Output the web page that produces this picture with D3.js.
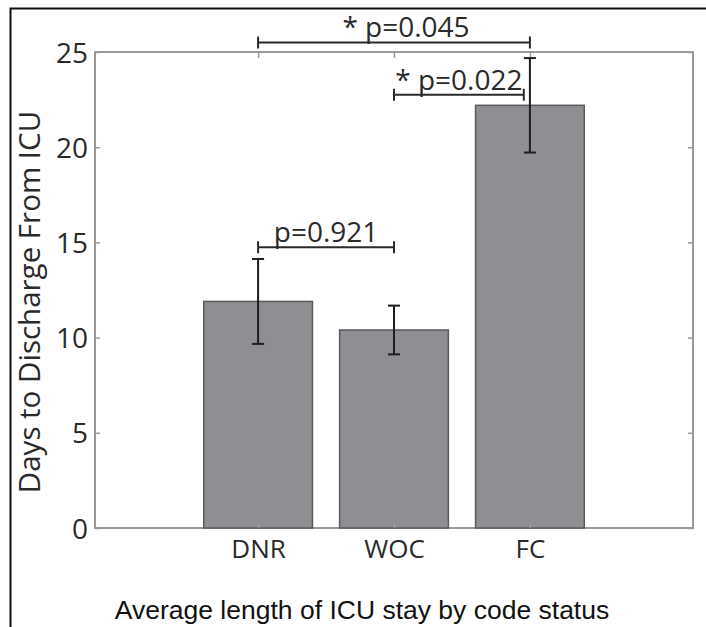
<!DOCTYPE html>
<html>
<head>
<meta charset="utf-8">
<script src="https://cdn.jsdelivr.net/npm/d3@7"></script>
<style>
  body { margin: 0; background: #fff; }
  svg { display: block; }
  .tick text { font-family: "Open Sans", sans-serif; }
</style>
</head>
<body>
<svg id="chart" width="706" height="627"></svg>
<script>
// data
const categories = ["DNR", "WOC", "FC"];
const meanDays = [11.9, 10.4, 22.2];
const errDays = [2.23, 1.28, 2.48];
const yTicks = [0, 5, 10, 15, 20, 25];

// significance brackets (x in category positions, level in days)
const pLabels = ["p=0.921", "* p=0.022", "* p=0.045"];
const pFrom = [1, 2, 1];
const pTo = [2, 2.955, 3];
const pLevel = [14.75, 22.75, 25.5];

const svg = d3.select("#chart");
const margin = {left: 95, right: 13, top: 52, bottom: 99};
const width = 706, height = 627;

const x = d3.scaleLinear()
    .domain([-0.2, 4.2])
    .range([margin.left, width - margin.right]);
const y = d3.scaleLinear()
    .domain([0, 25])
    .range([height - margin.bottom, margin.top]);

const axisColor = "#9a9a9a";
const textColor = "#2a2a2a";

// outer frame (top and left only)
svg.append("path")
    .attr("d", "M10.5,627V8.5H706")
    .attr("fill", "none")
    .attr("stroke", "#111")
    .attr("stroke-width", 2);

// plot box
svg.append("rect")
    .attr("x", x(-0.2)).attr("y", y(25))
    .attr("width", x(4.2) - x(-0.2))
    .attr("height", y(0) - y(25))
    .attr("fill", "none")
    .attr("stroke", axisColor)
    .attr("stroke-width", 2);

// bars
const bw = 0.8;
svg.append("g").selectAll("rect")
    .data(meanDays)
    .join("rect")
    .attr("x", (d, i) => x(i + 1 - bw / 2))
    .attr("y", d => y(d))
    .attr("width", x(bw) - x(0))
    .attr("height", d => y(0) - y(d))
    .attr("fill", "#8e8f93")
    .attr("stroke", "#5a5a5c")
    .attr("stroke-width", 1.5);

// axes, ticks inside like the original
const yAxis = svg.append("g")
    .attr("transform", `translate(${x(-0.2)},0)`)
    .call(d3.axisLeft(y).tickValues(yTicks).tickSize(-5).tickPadding(7));
const yAxisR = svg.append("g")
    .attr("transform", `translate(${x(4.2)},0)`)
    .call(d3.axisRight(y).tickValues(yTicks).tickSize(-5).tickFormat(""));
const xAxis = svg.append("g")
    .attr("transform", `translate(0,${y(0)})`)
    .call(d3.axisBottom(x).tickValues([1, 2, 3]).tickSize(-6).tickPadding(12)
        .tickFormat(d => categories[d - 1]));
const xAxisT = svg.append("g")
    .attr("transform", `translate(0,${y(25)})`)
    .call(d3.axisTop(x).tickValues([1, 2, 3]).tickSize(-6).tickFormat(""));

[yAxis, yAxisR, xAxis, xAxisT].forEach(g => {
  g.select(".domain").remove();
  g.selectAll(".tick line").attr("stroke", axisColor).attr("stroke-width", 1.5);
});
yAxis.selectAll(".tick text")
    .attr("font-size", 28)
    .attr("fill", textColor)
    .attr("dy", "0.36em");
xAxis.selectAll(".tick text")
    .attr("font-size", 26)
    .attr("fill", textColor)
    .attr("dy", "0.68em");

// error bars
const eb = svg.append("g").attr("stroke", "#1e1e1e").attr("stroke-width", 2);
meanDays.forEach((m, i) => {
  const cx = x(i + 1);
  eb.append("line")
      .attr("x1", cx).attr("x2", cx)
      .attr("y1", y(m + errDays[i])).attr("y2", y(m - errDays[i]));
  [m + errDays[i], m - errDays[i]].forEach(v => {
    eb.append("line")
        .attr("x1", cx - 6).attr("x2", cx + 6)
        .attr("y1", y(v)).attr("y2", y(v));
  });
});

// significance brackets
const br = svg.append("g");
pLabels.forEach((lab, i) => {
  const x1 = x(pFrom[i]), x2 = x(pTo[i]), yy = y(pLevel[i]);
  br.append("path")
      .attr("d", `M${x1},${yy - 6}V${yy + 6}M${x1},${yy}H${x2}M${x2},${yy - 6}V${yy + 6}`)
      .attr("fill", "none")
      .attr("stroke", "#2a2a2a")
      .attr("stroke-width", 2);
  br.append("text")
      .attr("x", (x1 + x2) / 2 + (i === 2 ? 12 : 0))
      .attr("y", yy - 5)
      .attr("text-anchor", "middle")
      .attr("font-family", "'Open Sans', sans-serif")
      .attr("font-size", 28)
      .attr("fill", textColor)
      .text(lab);
});

// y label
svg.append("text")
    .attr("transform", `translate(40,302) rotate(-90)`)
    .attr("text-anchor", "middle")
    .attr("font-family", "'Open Sans', sans-serif")
    .attr("font-size", 29.5)
    .attr("fill", textColor)
    .text("Days to Discharge From ICU");

// caption
svg.append("text")
    .attr("x", 362)
    .attr("y", 619)
    .attr("text-anchor", "middle")
    .attr("font-family", "'Liberation Sans', Arial, sans-serif")
    .attr("font-size", 26.5)
    .attr("fill", "#111")
    .text("Average length of ICU stay by code status");
</script>
</body>
</html>
